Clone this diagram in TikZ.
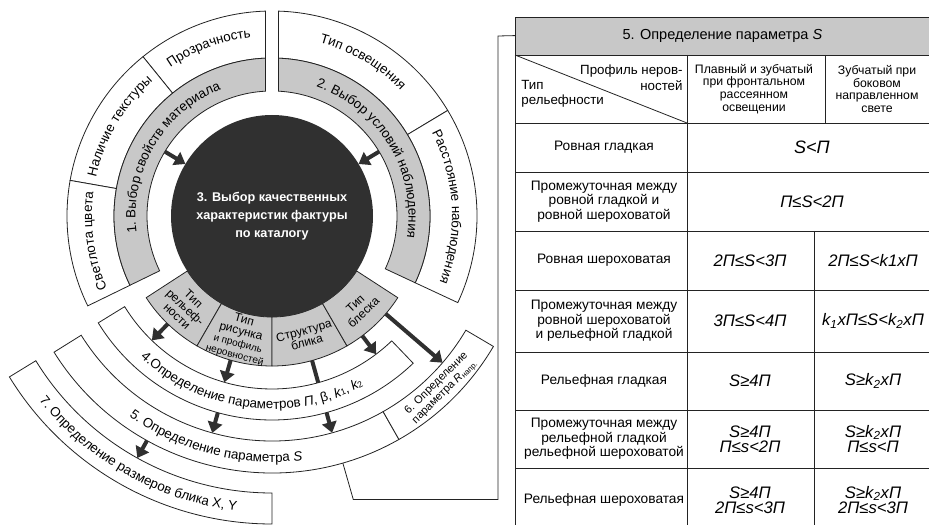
\documentclass[tikz,border=0pt]{standalone}
\usepackage{fontspec}
\setmainfont{Liberation Sans}
\usepackage{tikz}
\usetikzlibrary{arrows.meta,decorations.text}
\definecolor{ringgray}{RGB}{200,200,200}
\definecolor{coredark}{RGB}{48,48,48}
\definecolor{inkline}{RGB}{35,35,35}

\begin{document}
\begin{tikzpicture}[
  x=0.75pt, y=0.75pt, line width=0.6pt,
  seg/.style={draw=inkline, fill=white},
  grayseg/.style={draw=inkline, fill=ringgray},
  arr/.style={-{Triangle[length=8pt, width=11pt]}, line width=3pt, draw=coredark},
  curved/.style={decorate, decoration={text along path, text align=center,
                 text={|\fontsize{10}{12}\selectfont|#1}}},
  core/.style={circle, fill=coredark, minimum size=151.5pt, inner sep=0pt, outer sep=0pt,
               text=white, align=center, font=\fontsize{9.5}{13.5}\selectfont\bfseries},
  sector/.style={align=center, inner sep=0pt, font=\fontsize{9}{9}\selectfont},
  cell/.style={align=center, inner sep=0pt, font=\fontsize{10.3}{11}\selectfont},
  hcell/.style={align=center, inner sep=0pt, font=\fontsize{9.2}{9.6}\selectfont},
  frm/.style={align=center, inner sep=0pt, font=\fontsize{12.5}{11.5}\selectfont\itshape},
  grid/.style={draw=inkline},
  conn/.style={draw=inkline}
]
\useasboundingbox (0,0) rectangle (929,525);

\begin{scope}[shift={(272,309)}]
% arrow end points on the rings
\coordinate (matOut)    at (149:125);
\coordinate (condOut)   at (31:125);
\coordinate (reliefOut) at (226:150);   \coordinate (p4a) at (226:173);
\coordinate (drawOut)   at (254:150);   \coordinate (p4b) at (254:173);
\coordinate (blikOut)   at (285.5:150); \coordinate (p5a) at (285.5:225);
\coordinate (glossOut)  at (307:150);   \coordinate (p4c) at (307:173);
\coordinate (glossOut2) at (319.3:150); \coordinate (p6)  at (319.3:225);
\coordinate (p4out)     at (254.6:204); \coordinate (p5b) at (254.6:225);
\coordinate (p5out)     at (240.9:257); \coordinate (p7)  at (240.9:277);
\coordinate (p5link)    at (286:257);   \coordinate (p5far) at (286:295);

% runs under band 4
\draw[arr] (blikOut) -- (p5a);

% outer ring
\draw[seg] (129:158) arc[start angle=129, end angle=92.36, radius=158] -- (91.82:205) arc[start angle=91.82, end angle=129, radius=205] -- cycle;
\draw[seg] (170:158) arc[start angle=170, end angle=129, radius=158] -- (129:205) arc[start angle=129, end angle=170, radius=205] -- cycle;
\draw[seg] (206:158) arc[start angle=206, end angle=170, radius=158] -- (170:205) arc[start angle=170, end angle=206, radius=205] -- cycle;
\draw[seg] (31:158) arc[start angle=31, end angle=87.64, radius=158] -- (88.18:205) arc[start angle=88.18, end angle=31, radius=205] -- cycle;
\draw[seg] (-25:158) arc[start angle=-25, end angle=31, radius=158] -- (31:205) arc[start angle=31, end angle=-25, radius=205] -- cycle;

% gray ring
\draw[grayseg] (206:158) arc[start angle=206, end angle=92.36, radius=158] -- (92.98:125) arc[start angle=92.98, end angle=206, radius=125] -- cycle;
\draw[grayseg] (-25:125) arc[start angle=-25, end angle=87.02, radius=125] -- (87.64:158) arc[start angle=87.64, end angle=-25, radius=158] -- cycle;

% bottom sectors
\foreach \a/\b in {213/240, 240/270, 270/300, 300/327}
  \draw[grayseg] (\a:101) arc[start angle=\a, end angle=\b, radius=101] -- (\b:150) arc[start angle=\b, end angle=\a, radius=150] -- cycle;

\node[core] (core) at (0,0) {3. Выбор качественных\\характеристик фактуры\\по каталогу};

% bands 4-7
\draw[seg] (211.6:173) arc[start angle=211.6, end angle=313.8, radius=173] -- (313.8:204) arc[start angle=313.8, end angle=211.6, radius=204] -- cycle;
\draw[seg] (212:225) arc[start angle=212, end angle=299.6, radius=225] -- (299.6:257) arc[start angle=299.6, end angle=212, radius=257] -- cycle;
\draw[seg] (299.6:225) arc[start angle=299.6, end angle=329.5, radius=225] -- (329.5:257) arc[start angle=329.5, end angle=299.6, radius=257] -- cycle;
\draw[seg] (211.5:277) arc[start angle=211.5, end angle=270, radius=277] -- (270:308) arc[start angle=270, end angle=211.5, radius=308] -- cycle;

% ring labels
\path[curved={Прозрачность}] (129:180) arc[start angle=129, end angle=92, radius=180];
\path[curved={Наличие текстуры}] (170:180) arc[start angle=170, end angle=129, radius=180];
\path[curved={Светлота цвета}] (206:180) arc[start angle=206, end angle=170, radius=180];
\path[curved={Тип освещения}] (88:180) arc[start angle=88, end angle=31, radius=180];
\path[curved={Расстояние наблюдения}] (31:180) arc[start angle=31, end angle=-25, radius=180];
\path[curved={1. Выбор свойств материала}] (206:136.5) arc[start angle=206, end angle=93, radius=136.5];
\path[curved={2. Выбор условий наблюдения}] (87:136.5) arc[start angle=87, end angle=-25, radius=136.5];
\path[curved={4.Определение параметров |\fontsize{10}{12}\selectfont\itshape|П|\fontsize{10}{12}\selectfont\upshape|, β, |\fontsize{10}{12}\selectfont\itshape|k|\fontsize{6.5}{8}\selectfont\upshape|1|\fontsize{10}{12}\selectfont\upshape|, |\fontsize{10}{12}\selectfont\itshape|k|\fontsize{6.5}{8}\selectfont\upshape|2}]
  (211.6:193) arc[start angle=211.6, end angle=313.8, radius=193];
\path[curved={5. Определение параметра |\fontsize{10}{12}\selectfont\itshape|S}]
  (212:246) arc[start angle=212, end angle=299.6, radius=246];
\path[curved={7. Определение размеров блика X, Y}]
  (211.5:297) arc[start angle=211.5, end angle=270, radius=297];

\node[sector, rotate=-43.5] (relief) at (226.5:126) {Тип\\рельеф-\\ности};
\node[sector, rotate=-15] (pattern) at (255:126) {Тип\\рисунка\\{\fontsize{7.5}{7.5}\selectfont и профиль}\\{\fontsize{7.5}{7.5}\selectfont неровностей}};
\node[sector, rotate=15] (glint) at (285.5:125) {Структура\\блика};
\node[sector, rotate=43.5] (gloss) at (313.5:127) {Тип\\блеска};
\node[sector, rotate=44.5, font=\fontsize{8.3}{9}\selectfont] (rparam) at (314.5:241) {6. Определение\\параметра \textit{R}\textsubscript{напр.}};

% arrows
\draw[arr] (matOut) -- (core.149);
\draw[arr] (condOut) -- (core.31);
\draw[arr] (reliefOut) -- (p4a);
\draw[arr] (drawOut) -- (p4b);
\draw[arr] (glossOut) -- (p4c);
\draw[arr] (glossOut2) -- (p6);
\draw[arr] (p4out) -- (p5b);
\draw[arr] (p5out) -- (p7);
\end{scope}

% table
\node[fill=ringgray, minimum width=310.5pt, minimum height=28.5pt, inner sep=0pt,
      anchor=south west, font=\fontsize{10.9}{12}\selectfont] (hdr) at (515,470) {5. Определение параметра \textit{S}};
\coordinate (linkbend) at (498,489);
\draw[conn] (p5link) -- (p5far) -| (linkbend) -- (hdr.west);

\draw[grid] (929,508) -- (515,508) -- (515,0);
\foreach \yy in {470,402,353,294,235,173,115,57}
  \draw[grid] (515,\yy) -- (929,\yy);
\draw[grid] (687,470) -- (687,0);
\draw[grid] (825,470) -- (825,402);
\draw[grid] (814,294) -- (814,0);
\draw[grid] (515,470) -- (687,402);

\node[hcell, anchor=east, align=right, font=\fontsize{10}{12}\selectfont] (profHead) at (683,447) {Профиль неров-\\ностей};
\node[hcell, anchor=west, align=left, font=\fontsize{10}{11.5}\selectfont] (reliefHead) at (521,431) {Тип\\рельефности};
\node[hcell] (frontHead) at (754,436) {Плавный и зубчатый\\при фронтальном\\рассеянном\\освещении};
\node[hcell] (sideHead) at (877,436) {Зубчатый при\\боковом\\направленном\\свете};

\node[cell] (rowA) at (604,377.5) {Ровная гладкая};
\node[cell] (rowB) at (604,323.5) {Промежуточная между\\ровной гладкой и\\ровной шероховатой};
\node[cell] (rowC) at (604,264.5) {Ровная шероховатая};
\node[cell] (rowD) at (604,204) {Промежуточная между\\ровной шероховатой\\и рельефной гладкой};
\node[cell] (rowE) at (604,144) {Рельефная гладкая};
\node[cell] (rowF) at (604,86) {Промежуточная между\\рельефной гладкой\\рельефной шероховатой};
\node[cell] (rowG) at (604,25) {Рельефная шероховатая};

\node[frm, font=\fontsize{13.5}{14}\selectfont\itshape] (valA) at (812,377.5) {S<П};
\node[frm] (valB) at (812,323.5) {П≤S<2П};
\node[frm] (valC1) at (750,264.5) {2П≤S<3П};
\node[frm] (valC2) at (873,264.5) {2П≤S<k1xП};
\node[frm] (valD1) at (750,204) {3П≤S<4П};
\node[frm] (valD2) at (873,204) {k\textsubscript{1}xП≤S<k\textsubscript{2}xП};
\node[frm] (valE1) at (750,144) {S≥4П};
\node[frm] (valE2) at (873,144) {S≥k\textsubscript{2}xП};
\node[frm] (valF1) at (750,86) {S≥4П\\П≤s<2П};
\node[frm] (valF2) at (873,86) {S≥k\textsubscript{2}xП\\П≤s<П};
\node[frm] (valG1) at (750,25) {S≥4П\\2П≤s<3П};
\node[frm] (valG2) at (873,25) {S≥k\textsubscript{2}xП\\2П≤s<3П};
\end{tikzpicture}
\end{document}
